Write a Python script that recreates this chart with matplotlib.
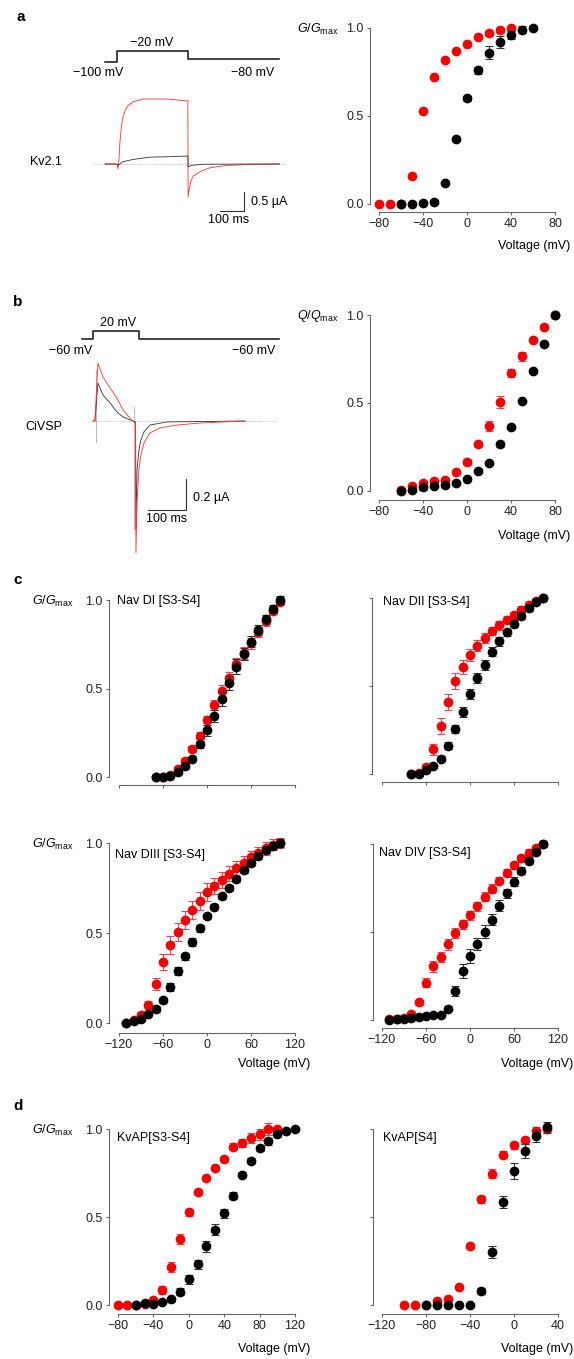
import matplotlib
matplotlib.use('Agg')
import matplotlib.pyplot as plt

plt.rcParams['font.family'] = ['Liberation Sans', 'DejaVu Sans']
plt.rcParams['mathtext.fontset'] = 'custom'
plt.rcParams['mathtext.rm'] = 'Liberation Sans'
plt.rcParams['mathtext.it'] = 'Liberation Sans:italic'
plt.rcParams['axes.unicode_minus'] = True

RED = '#f50000'
RED_ERR = '#f2405a'
BLK = '#000000'
BLK_ERR = '#333333'
AXC = '#666666'

# ---- panel a: Kv2.1 ----
a_red_v = [-80, -70, -60, -50, -40, -30, -20, -10, 0, 10, 20, 30, 40]
a_red_g = [0.0, 0.0, 0.0, 0.16, 0.53, 0.72, 0.82, 0.87, 0.91, 0.95, 0.97, 0.99, 1.0]
a_red_e = [0.005, 0.005, 0.005, 0.01, 0.01, 0.01, 0.01, 0.01, 0.01, 0.01, 0.01, 0.01, 0.005]
a_blk_v = [-60, -50, -40, -30, -20, -10, 0, 10, 20, 30, 40, 50, 60]
a_blk_g = [0.0, 0.0, 0.003, 0.01, 0.12, 0.37, 0.60, 0.76, 0.86, 0.92, 0.96, 0.99, 1.0]
a_blk_e = [0.005, 0.005, 0.005, 0.01, 0.01, 0.01, 0.015, 0.02, 0.035, 0.035, 0.025, 0.02, 0.01]

# traces (ms, uA)
a_red_t = [-50, -17, 0, 4, 8, 13, 18, 25, 35, 46, 68, 110, 211, 295, 299, 300, 304, 312, 321, 350, 392, 456, 561, 685]
a_red_i = [0, 0, -0.01, -0.13, 0.1, 0.63, 0.95, 1.24, 1.42, 1.53, 1.64, 1.71, 1.71, 1.66, 1.66, -0.87, -0.68,
           -0.45, -0.32, -0.2, -0.1, -0.04, -0.01, 0]
a_blk_t = [-50, 0, 4, 25, 68, 139, 211, 295, 299, 300, 321, 370, 685]
a_blk_i = [0, 0, -0.03, 0.06, 0.12, 0.18, 0.19, 0.21, 0.21, -0.07, -0.03, -0.005, 0]
a_prot_t = [-50, 0, 0, 300, 300, 685]
a_prot_v = [-100, -100, -20, -20, -80, -80]

# ---- panel b: CiVSP ----
b_v = [-60, -50, -40, -30, -20, -10, 0, 10, 20, 30, 40, 50, 60, 70, 80]
b_red_q = [0.005, 0.03, 0.045, 0.055, 0.065, 0.11, 0.165, 0.265, 0.37, 0.505, 0.67, 0.765, 0.86, 0.93, 1.0]
b_red_e = [0.01, 0.01, 0.01, 0.01, 0.01, 0.01, 0.015, 0.015, 0.03, 0.035, 0.025, 0.025, 0.01, 0.01, 0.01]
b_blk_q = [0.0, 0.005, 0.02, 0.03, 0.035, 0.045, 0.07, 0.115, 0.16, 0.265, 0.365, 0.51, 0.68, 0.835, 1.0]
b_blk_e = [0.01, 0.01, 0.015, 0.015, 0.01, 0.01, 0.01, 0.01, 0.01, 0.015, 0.01, 0.01, 0.01, 0.01, 0.01]

b_red_t = [0, 5, 13, 26, 45, 63, 79, 97, 110, 112, 113, 116, 121, 126, 134, 150, 176, 221, 282, 368, 400]
b_red_i = [0, 0, 0.374, 0.284, 0.213, 0.148, 0.071, 0.019, -0.013, -0.013, -0.85, -0.51, -0.316, -0.22,
           -0.142, -0.077, -0.045, -0.026, -0.013, -0.003, 0]
b_blk_t = [0, 5, 13, 26, 45, 63, 79, 105, 110, 112, 113, 116, 121, 126, 134, 150, 195, 400]
b_blk_i = [0, 0, 0.245, 0.168, 0.116, 0.058, 0.026, 0, -0.006, -0.006, -0.70, -0.316, -0.187, -0.123,
           -0.071, -0.026, -0.006, 0]
b_prot_t = [-30, 0, 0, 120, 120, 490]
b_prot_v = [-60, -60, 20, 20, -60, -60]

# ---- panel c: Nav domains ----
di_v = [-70, -60, -50, -40, -30, -20, -10, 0, 10, 20, 30, 40, 50, 60, 70, 80, 90, 100]
di_blk = [0.0, 0.0, 0.008, 0.03, 0.06, 0.104, 0.185, 0.263, 0.346, 0.44, 0.533, 0.624, 0.696, 0.764, 0.83, 0.89, 0.949, 1.0]
di_blk_e = [0.01, 0.01, 0.01, 0.01, 0.015, 0.015, 0.02, 0.03, 0.035, 0.04, 0.04, 0.04, 0.035, 0.03, 0.03, 0.025, 0.02, 0.02]
di_red = [0.0, 0.0, 0.01, 0.045, 0.093, 0.159, 0.234, 0.32, 0.406, 0.486, 0.561, 0.637, 0.70, 0.755, 0.82, 0.88, 0.94, 0.99]
di_red_e = [0.01, 0.01, 0.01, 0.01, 0.015, 0.015, 0.02, 0.025, 0.03, 0.035, 0.035, 0.035, 0.035, 0.03, 0.03, 0.025, 0.02, 0.02]

dii_v = [-80, -70, -60, -50, -40, -30, -20, -10, 0, 10, 20, 30, 40, 50, 60, 70, 80, 90, 100]
dii_blk = [0.0, 0.0, 0.02, 0.044, 0.087, 0.16, 0.256, 0.353, 0.455, 0.546, 0.62, 0.694, 0.753, 0.805, 0.854, 0.9, 0.943, 0.98, 1.0]
dii_blk_e = [0.01, 0.01, 0.01, 0.01, 0.015, 0.02, 0.025, 0.03, 0.03, 0.03, 0.03, 0.025, 0.025, 0.02, 0.02, 0.02, 0.015, 0.015, 0.01]
dii_red = [0.0, 0.005, 0.04, 0.14, 0.275, 0.408, 0.527, 0.61, 0.677, 0.73, 0.772, 0.812, 0.846, 0.877, 0.903, 0.933, 0.96, 0.983, 1.0]
dii_red_e = [0.01, 0.01, 0.015, 0.03, 0.045, 0.045, 0.045, 0.04, 0.035, 0.03, 0.03, 0.025, 0.025, 0.02, 0.02, 0.02, 0.015, 0.015, 0.01]

diii_v = [-110, -100, -90, -80, -70, -60, -50, -40, -30, -20, -10, 0, 10, 20, 30, 40, 50, 60, 70, 80, 90, 100]
diii_blk = [0.0, 0.01, 0.022, 0.048, 0.078, 0.126, 0.2, 0.289, 0.37, 0.45, 0.526, 0.593, 0.646, 0.704, 0.75, 0.80,
            0.85, 0.89, 0.93, 0.96, 0.985, 1.0]
diii_blk_e = [0.01, 0.01, 0.01, 0.01, 0.015, 0.015, 0.02, 0.02, 0.02, 0.02, 0.02, 0.015, 0.015, 0.015, 0.015, 0.015,
              0.015, 0.015, 0.015, 0.015, 0.015, 0.02]
diii_red = [0.0, 0.015, 0.043, 0.10, 0.217, 0.34, 0.435, 0.507, 0.57, 0.63, 0.68, 0.726, 0.76, 0.796, 0.83, 0.86,
            0.89, 0.92, 0.944, 0.97, 0.99, 1.0]
diii_red_e = [0.01, 0.01, 0.015, 0.02, 0.035, 0.045, 0.05, 0.05, 0.05, 0.05, 0.05, 0.05, 0.045, 0.045, 0.04, 0.04,
              0.04, 0.035, 0.035, 0.035, 0.03, 0.03]

div_v = diii_v
div_blk = [0.0, 0.004, 0.007, 0.011, 0.015, 0.02, 0.026, 0.03, 0.064, 0.164, 0.277, 0.362, 0.432, 0.502, 0.57, 0.65,
           0.72, 0.785, 0.847, 0.906, 0.957, 1.0]
div_blk_e = [0.01, 0.01, 0.01, 0.01, 0.01, 0.01, 0.01, 0.01, 0.015, 0.03, 0.04, 0.04, 0.035, 0.035, 0.03, 0.03,
             0.025, 0.025, 0.02, 0.02, 0.015, 0.015]
div_red = [0.004, 0.006, 0.01, 0.034, 0.10, 0.213, 0.304, 0.358, 0.43, 0.494, 0.543, 0.594, 0.645, 0.70, 0.745, 0.79,
           0.838, 0.88, 0.92, 0.95, 0.98, 1.0]
div_red_e = [0.01, 0.01, 0.01, 0.01, 0.015, 0.025, 0.03, 0.03, 0.03, 0.03, 0.025, 0.025, 0.025, 0.025, 0.025, 0.02,
             0.02, 0.02, 0.02, 0.02, 0.015, 0.015]

# ---- panel d: KvAP ----
kv34_red_v = [-80, -70, -60, -50, -40, -30, -20, -10, 0, 10, 20, 30, 40, 50, 60, 70, 80, 90, 100]
kv34_red = [0.0, 0.0, 0.0, 0.005, 0.03, 0.085, 0.215, 0.376, 0.527, 0.64, 0.72, 0.78, 0.83, 0.90, 0.92, 0.95, 0.97, 1.0, 1.0]
kv34_red_e = [0.005, 0.005, 0.005, 0.005, 0.01, 0.025, 0.03, 0.03, 0.02, 0.015, 0.01, 0.01, 0.01, 0.02, 0.025, 0.03,
              0.03, 0.035, 0.01]
kv34_blk_v = [-60, -50, -40, -30, -20, -10, 0, 10, 20, 30, 40, 50, 60, 70, 80, 90, 100, 110, 120]
kv34_blk = [0.0, 0.01, 0.004, 0.015, 0.032, 0.076, 0.146, 0.232, 0.333, 0.428, 0.52, 0.62, 0.74, 0.82, 0.89, 0.93,
            0.97, 0.99, 1.0]
kv34_blk_e = [0.005, 0.005, 0.005, 0.01, 0.015, 0.02, 0.025, 0.025, 0.03, 0.03, 0.025, 0.02, 0.015, 0.015, 0.015,
              0.02, 0.015, 0.01, 0.01]

kv4_red_v = [-100, -90, -80, -70, -60, -50, -40, -30, -20, -10, 0, 10, 20, 30]
kv4_red = [0.0, 0.0, 0.0, 0.025, 0.032, 0.10, 0.335, 0.60, 0.746, 0.854, 0.907, 0.936, 0.99, 1.0]
kv4_red_e = [0.005, 0.005, 0.005, 0.01, 0.01, 0.01, 0.01, 0.02, 0.025, 0.02, 0.02, 0.02, 0.02, 0.02]
kv4_blk_v = [-80, -70, -60, -50, -40, -30, -20, -10, 0, 10, 20, 30]
kv4_blk = [0.0, 0.0, 0.0, 0.0, 0.0, 0.08, 0.30, 0.585, 0.76, 0.873, 0.96, 1.01]
kv4_blk_e = [0.005, 0.005, 0.005, 0.005, 0.005, 0.015, 0.035, 0.035, 0.045, 0.04, 0.035, 0.03]

W, H = 574, 1359
fig = plt.figure(figsize=(W / 100, H / 100), dpi=100)


def px_axes(box, xmap, ymap):
    # box = (left, top, right, bottom) in pixels; maps = (v0, p0, v1, p1)
    L, T, R, B = box
    ax = fig.add_axes([L / W, 1 - B / H, (R - L) / W, (B - T) / H])
    ax.patch.set_alpha(0)
    v0, p0, v1, p1 = xmap
    k = (v1 - v0) / (p1 - p0)
    ax.set_xlim(v0 + (L - p0) * k, v0 + (R - p0) * k)
    v0, p0, v1, p1 = ymap
    k = (v1 - v0) / (p1 - p0)
    ax.set_ylim(v0 + (B - p0) * k, v0 + (T - p0) * k)
    return ax


def ftext(x, y, s, **kw):
    kw.setdefault('fontsize', 9)
    kw.setdefault('ha', 'center')
    kw.setdefault('va', 'center')
    fig.text(x / W, 1 - y / H, s, **kw)


def iv_plot(ax, red, blk, xticks, xlab=True, ylab=True):
    ax.errorbar(red[0], red[1], yerr=red[2], fmt='o', ms=6, color=RED, mec=RED, ecolor=RED_ERR,
                elinewidth=0.8, capsize=3, capthick=0.8, zorder=3)
    ax.errorbar(blk[0], blk[1], yerr=blk[2], fmt='o', ms=6, color=BLK, mec=BLK, ecolor=BLK_ERR,
                elinewidth=0.8, capsize=3, capthick=0.8, zorder=4)
    for s in ['top', 'right']:
        ax.spines[s].set_visible(False)
    for s in ['left', 'bottom']:
        ax.spines[s].set_color(AXC)
        ax.spines[s].set_linewidth(0.8)
    ax.spines['left'].set_bounds(0, 1)
    ax.spines['bottom'].set_bounds(xticks[0], xticks[-1])
    ax.set_xticks(xticks)
    ax.set_yticks([0, 0.5, 1.0])
    ax.set_yticklabels(['0.0', '0.5', '1.0'] if ylab else [])
    if not xlab:
        ax.set_xticklabels([])
    ax.tick_params(direction='out', length=2.5, width=0.8, color=AXC, labelcolor='#222222',
                   labelsize=9)
    ax.tick_params(axis='x', pad=1.5)
    ax.tick_params(axis='y', pad=2)


def trace_axes(ax):
    ax.axis('off')


# ---------------- panel a ----------------
ftext(21, 17, 'a', fontsize=11, fontweight='bold')
pa = px_axes((85, 40, 300, 70), (0, 117, 100, 140.7), (-100, 62, -20, 51))
trace_axes(pa)
pa.plot(a_prot_t, a_prot_v, color='#111111', lw=1.1)
ta = px_axes((85, 85, 300, 230), (0, 117, 100, 140.7), (0, 164, 0.5, 145))
trace_axes(ta)
ta.plot([-101, 709], [0, 0], ls=(0, (1, 1.5)), color='#aaaaaa', lw=0.6)
ta.plot(a_red_t, a_red_i, color='#ff3030', lw=0.6)
ta.plot(a_blk_t, a_blk_i, color='#333333', lw=0.6)
ta.plot([436, 536, 536], [-1.237, -1.237, -0.737], color='#333333', lw=0.8)
ftext(152, 43, '\u221220 mV')
ftext(98, 73, '\u2212100 mV')
ftext(253, 73, '\u221280 mV')
ftext(46, 162, 'Kv2.1')
ftext(251, 202, '0.5 \u00b5A', ha='left')
ftext(229, 220, '100 ms')

axa = px_axes((370, 15, 560, 212), (-80, 379, 80, 555), (0, 204, 1, 28))
iv_plot(axa, (a_red_v, a_red_g, a_red_e), (a_blk_v, a_blk_g, a_blk_e), [-80, -40, 0, 40, 80])
ftext(338, 29, r'$G/G_{\mathrm{max}}$', ha='right')
ftext(570, 246, 'Voltage (mV)', ha='right')

# ---------------- panel b ----------------
ftext(18, 302, 'b', fontsize=11, fontweight='bold')
pb = px_axes((75, 320, 300, 345), (0, 93, 100, 131), (-60, 339, 20, 331))
trace_axes(pb)
pb.plot(b_prot_t, b_prot_v, color='#111111', lw=1.1)
tb = px_axes((75, 355, 300, 560), (0, 93, 100, 131), (0, 421, 0.2, 390))
trace_axes(tb)
tb.plot([-8, 484], [0, 0], ls=(0, (1, 1.5)), color='#aaaaaa', lw=0.6)
tb.plot([9, 9], [-0.135, 0.33], color='#bbbbbb', lw=0.8)
tb.plot([109, 109], [0.09, -0.7], color='#bbbbbb', lw=0.8)
tb.plot(b_blk_t, b_blk_i, color='#333333', lw=0.6)
tb.plot(b_red_t, b_red_i, color='#ff3030', lw=0.6)
tb.plot([145, 245, 245], [-0.574, -0.574, -0.374], color='#333333', lw=0.8)
ftext(118, 323, '20 mV')
ftext(71, 351, '\u221260 mV')
ftext(254, 351, '\u221260 mV')
ftext(44, 427, 'CiVSP')
ftext(193, 498, '0.2 \u00b5A', ha='left')
ftext(167, 519, '100 ms')

axb = px_axes((370, 300, 560, 500), (-80, 379, 80, 555), (0, 491, 1, 315))
iv_plot(axb, (b_v, b_red_q, b_red_e), (b_v, b_blk_q, b_blk_e), [-80, -40, 0, 40, 80])
ftext(338, 316, r'$Q/Q_{\mathrm{max}}$', ha='right')
ftext(570, 536, 'Voltage (mV)', ha='right')

# ---------------- panel c ----------------
ftext(18, 580, 'c', fontsize=11, fontweight='bold')
nav_ticks = [-120, -60, 0, 60, 120]
ax1 = px_axes((109, 590, 300, 785), (-120, 119, 120, 295), (0, 777, 1, 600))
iv_plot(ax1, (di_v, di_red, di_red_e), (di_v, di_blk, di_blk_e), nav_ticks, xlab=False)
ax1.text(0.04, 0.945, 'Nav DI [S3-S4]', transform=ax1.transAxes, fontsize=9, va='center')
ftext(73, 601, r'$G/G_{\mathrm{max}}$', ha='right')

ax2 = px_axes((372, 588, 565, 782), (-120, 382, 120, 558), (0, 774, 1, 598))
iv_plot(ax2, (dii_v, dii_red, dii_red_e), (dii_v, dii_blk, dii_blk_e), nav_ticks, xlab=False, ylab=False)
ax2.text(0.055, 0.93, 'Nav DII [S3-S4]', transform=ax2.transAxes, fontsize=9, va='center')

ax3 = px_axes((109, 833, 300, 1033), (-120, 119, 120, 295), (0, 1023, 1, 843))
iv_plot(ax3, (diii_v, diii_red, diii_red_e), (diii_v, diii_blk, diii_blk_e), nav_ticks)
ax3.text(0.03, 0.89, 'Nav DIII [S3-S4]', transform=ax3.transAxes, fontsize=9, va='center')
ftext(73, 844, r'$G/G_{\mathrm{max}}$', ha='right')
ftext(310, 1064, 'Voltage (mV)', ha='right')

ax4 = px_axes((373, 834, 565, 1028), (-120, 382, 120, 558), (0, 1020, 1, 844))
iv_plot(ax4, (div_v, div_red, div_red_e), (div_v, div_blk, div_blk_e), nav_ticks, ylab=False)
ax4.text(0.03, 0.9, 'Nav DIV [S3-S4]', transform=ax4.transAxes, fontsize=9, va='center')
ftext(573, 1064, 'Voltage (mV)', ha='right')

# ---------------- panel d ----------------
ftext(18, 1106, 'd', fontsize=11, fontweight='bold')
ax5 = px_axes((109, 1120, 300, 1314), (-80, 118, 120, 295), (0, 1305, 1, 1129))
iv_plot(ax5, (kv34_red_v, kv34_red, kv34_red_e), (kv34_blk_v, kv34_blk, kv34_blk_e),
        [-80, -40, 0, 40, 80, 120])
ax5.text(0.04, 0.905, 'KvAP[S3-S4]', transform=ax5.transAxes, fontsize=9, va='center')
ftext(73, 1130, r'$G/G_{\mathrm{max}}$', ha='right')
ftext(310, 1349, 'Voltage (mV)', ha='right')

ax6 = px_axes((373, 1120, 565, 1314), (-120, 382, 40, 558), (0, 1305, 1, 1129))
iv_plot(ax6, (kv4_red_v, kv4_red, kv4_red_e), (kv4_blk_v, kv4_blk, kv4_blk_e),
        [-120, -80, -40, 0, 40], ylab=False)
ax6.text(0.05, 0.905, 'KvAP[S4]', transform=ax6.transAxes, fontsize=9, va='center')
ftext(573, 1349, 'Voltage (mV)', ha='right')

fig.savefig('out.png', dpi=100, facecolor='white')
